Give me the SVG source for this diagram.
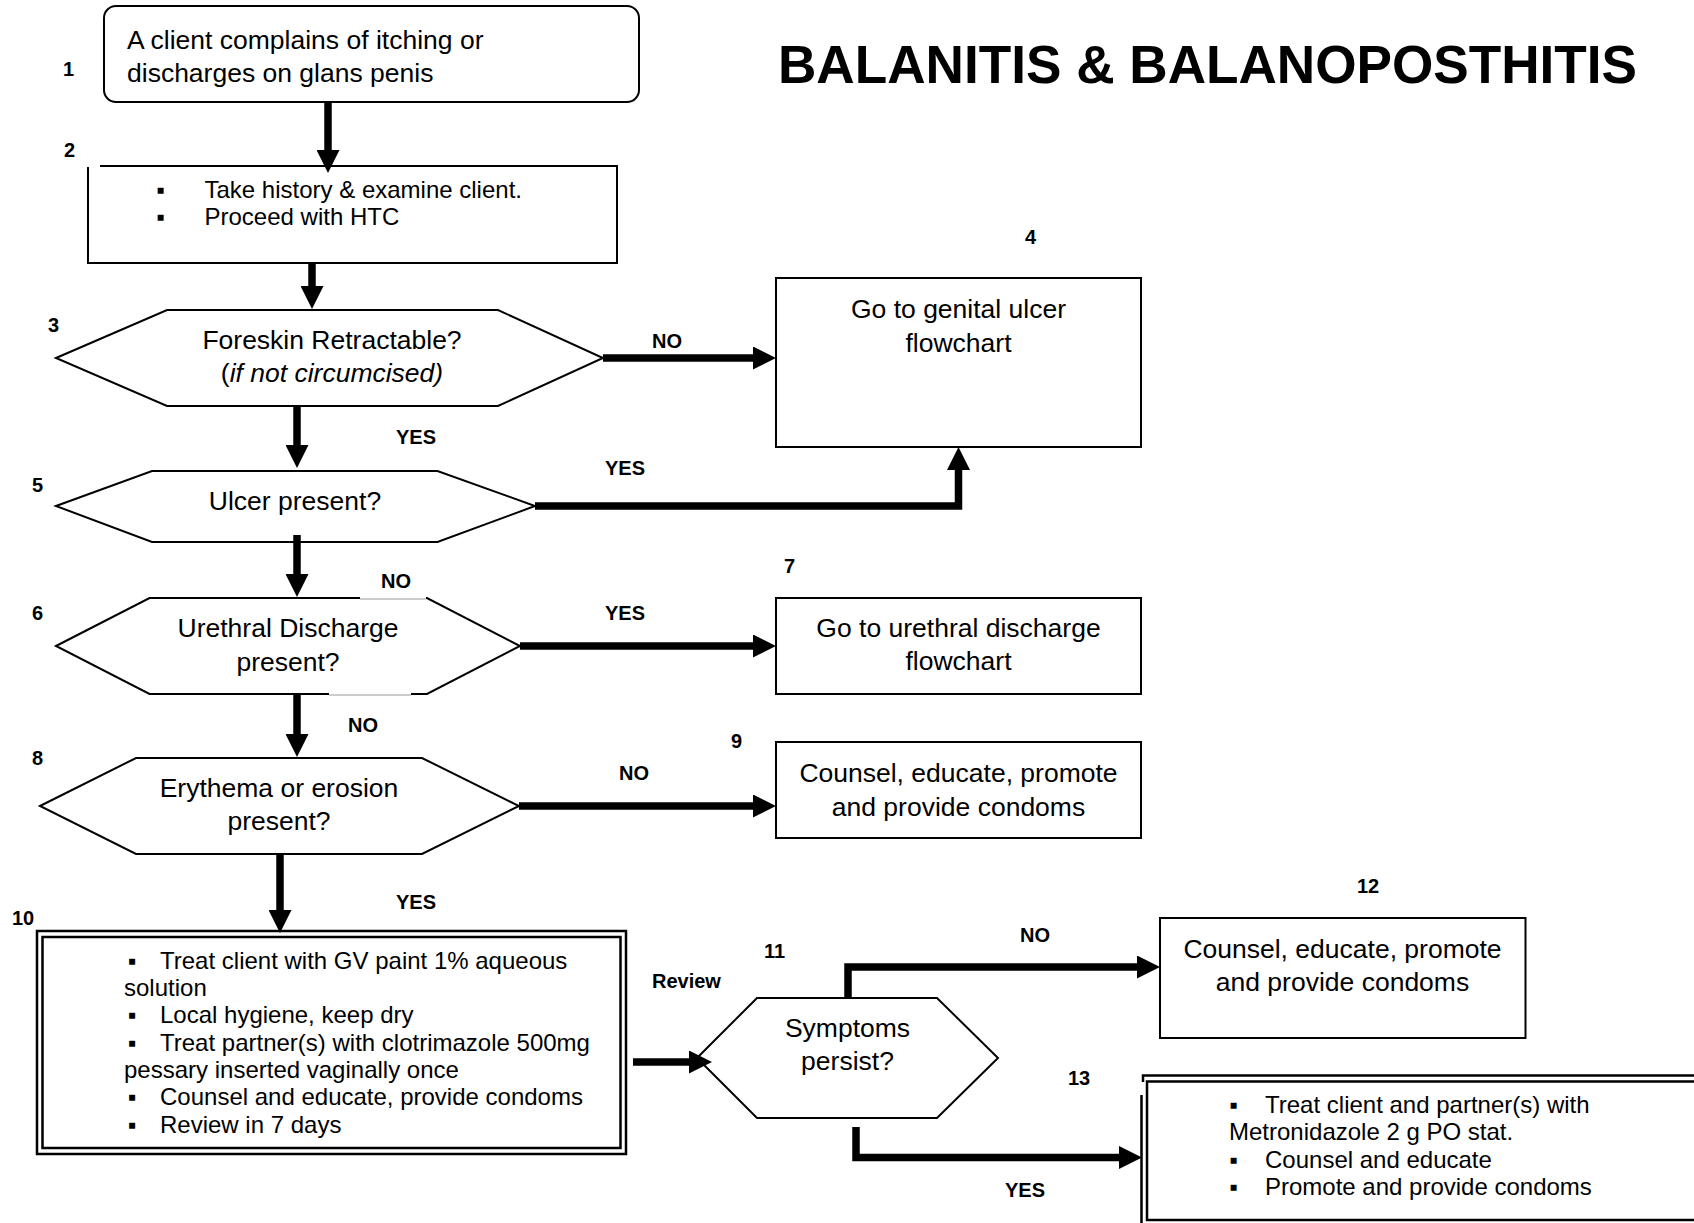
<svg xmlns="http://www.w3.org/2000/svg" width="1694" height="1223" viewBox="0 0 1694 1223">
<style>
  text { font-family: "Liberation Sans", Arial, sans-serif; fill: #000; }
  .t { font-size: 26.5px; }
  .c { text-anchor: middle; }
  .b { font-size: 24px; }
  .lab { font-size: 20px; font-weight: bold; }
  .box { fill: #fff; stroke: #000; stroke-width: 2; }
  .dbl { fill: none; stroke: #000; stroke-width: 2.5; }
  .edge { fill: none; stroke: #000; stroke-width: 7.5; stroke-linejoin: miter; marker-end: url(#ah); }
</style>
<defs>
  <marker id="ah" markerUnits="userSpaceOnUse" markerWidth="23" markerHeight="23" viewBox="0 0 23 23" refX="11" refY="11.5" orient="auto">
    <path d="M0,0 L23,11.5 L0,23 Z" fill="#000"/>
  </marker>
</defs>
<rect width="1694" height="1223" fill="#fff"/>

<text id="title" x="778" y="83" font-size="53" font-weight="bold" textLength="859" lengthAdjust="spacingAndGlyphs">BALANITIS &amp; BALANOPOSTHITIS</text>

<!-- step numbers -->
<g id="numbers" class="lab">
  <text x="63" y="76">1</text>
  <text x="64" y="157">2</text>
  <text x="48" y="332">3</text>
  <text x="1025" y="244">4</text>
  <text x="32" y="492">5</text>
  <text x="32" y="620">6</text>
  <text x="784" y="573">7</text>
  <text x="32" y="765">8</text>
  <text x="731" y="748">9</text>
  <text x="12" y="925">10</text>
  <text x="764" y="958">11</text>
  <text x="1357" y="893">12</text>
  <text x="1068" y="1085">13</text>
</g>

<g id="n1">
  <rect class="box" x="104" y="6" width="535" height="96" rx="12"/>
  <text class="t" x="127" y="49">A client complains of itching or</text>
  <text class="t" x="127" y="82">discharges on glans penis</text>
</g>

<g id="n2">
  <rect x="88" y="166" width="529" height="97" fill="#fff"/>
  <path d="M100,166 H617 V263 H88 V167" fill="none" stroke="#000" stroke-width="2"/>
  <text class="b" y="198"><tspan x="156.5">▪</tspan><tspan x="204.5">Take history &amp; examine client.</tspan></text>
  <text class="b" y="225"><tspan x="156.5">▪</tspan><tspan x="204.5">Proceed with HTC</tspan></text>
</g>

<g id="n3">
  <polygon class="box" points="56,358 167,310 498,310 603,358 498,406 167,406"/>
  <text class="t c" x="332" y="349">Foreskin Retractable?</text>
  <text class="t c" x="332" y="382">(<tspan font-style="italic">if not circumcised)</tspan></text>
</g>

<g id="n4">
  <rect class="box" x="776" y="278" width="365" height="169"/>
  <text class="t c" x="958.5" y="318">Go to genital ulcer</text>
  <text class="t c" x="958.5" y="351.5">flowchart</text>
</g>

<g id="n5">
  <polygon class="box" points="56,506 152,471 437.5,471 535,506 437.5,542 152,542"/>
  <text class="t c" x="295" y="510">Ulcer present?</text>
</g>

<g id="n6">
  <polygon class="box" points="56,646 149.5,598 427,598 520,646 427,694 149.5,694"/>
  <rect x="360" y="594" width="66" height="8" fill="#fff"/>
  <rect x="329" y="690" width="82" height="8" fill="#fff"/>
  <line x1="360" y1="599" x2="426" y2="599" stroke="#9a9a9a" stroke-width="1"/>
  <line x1="329" y1="695" x2="411" y2="695" stroke="#9a9a9a" stroke-width="1"/>
  <text class="t c" x="288" y="637">Urethral Discharge</text>
  <text class="t c" x="288" y="670.5">present?</text>
</g>

<g id="n7">
  <rect class="box" x="776" y="598" width="365" height="96"/>
  <text class="t c" x="958.5" y="636.5">Go to urethral discharge</text>
  <text class="t c" x="958.5" y="670">flowchart</text>
</g>

<g id="n8">
  <polygon class="box" points="40,806 136,758 422,758 519,806 422,854 136,854"/>
  <text class="t c" x="279" y="797">Erythema or erosion</text>
  <text class="t c" x="279" y="830">present?</text>
</g>

<g id="n9">
  <rect class="box" x="776" y="742" width="365" height="96"/>
  <text class="t c" x="958.5" y="782">Counsel, educate, promote</text>
  <text class="t c" x="958.5" y="815.5">and provide condoms</text>
</g>

<g id="n10">
  <rect x="37" y="931" width="589" height="223" fill="#fff"/>
  <rect class="dbl" x="37" y="931" width="589" height="223"/>
  <rect class="dbl" x="42.5" y="937" width="578" height="211"/>
  <text class="b" y="969"><tspan x="128">▪</tspan><tspan x="160">Treat client with GV paint 1% aqueous</tspan></text>
  <text class="b" x="124" y="996">solution</text>
  <text class="b" y="1023"><tspan x="128">▪</tspan><tspan x="160">Local hygiene, keep dry</tspan></text>
  <text class="b" y="1051"><tspan x="128">▪</tspan><tspan x="160">Treat partner(s) with clotrimazole 500mg</tspan></text>
  <text class="b" x="124" y="1078">pessary inserted vaginally once</text>
  <text class="b" y="1105"><tspan x="128">▪</tspan><tspan x="160">Counsel and educate, provide condoms</tspan></text>
  <text class="b" y="1132.5"><tspan x="128">▪</tspan><tspan x="160">Review in 7 days</tspan></text>
</g>

<g id="n11">
  <polygon class="box" points="697,1058 757,998 937,998 998,1058 937,1118 757,1118"/>
  <text class="t c" x="847.5" y="1036.5">Symptoms</text>
  <text class="t c" x="847.5" y="1070">persist?</text>
</g>

<g id="n12">
  <rect class="box" x="1160" y="918" width="365.5" height="120"/>
  <text class="t c" x="1342.5" y="957.5">Counsel, educate, promote</text>
  <text class="t c" x="1342.5" y="991">and provide condoms</text>
</g>

<g id="n13">
  <rect x="1143" y="1076" width="560" height="160" fill="#fff"/>
  <path class="dbl" d="M1143,1082 V1075.5 H1700"/>
  <rect class="dbl" x="1147" y="1081.5" width="560" height="138.5"/>
  <line x1="1141.5" y1="1095" x2="1141.5" y2="1223" stroke="#000" stroke-width="2.5"/>
  <text class="b" y="1113"><tspan x="1229.5">▪</tspan><tspan x="1265">Treat client and partner(s) with</tspan></text>
  <text class="b" x="1229" y="1140">Metronidazole 2 g PO stat.</text>
  <text class="b" y="1167.5"><tspan x="1229.5">▪</tspan><tspan x="1265">Counsel and educate</tspan></text>
  <text class="b" y="1195"><tspan x="1229.5">▪</tspan><tspan x="1265">Promote and provide condoms</tspan></text>
</g>

<g id="connectors">
  <path class="edge" d="M328,102 V161"/>
  <path class="edge" d="M312,263 V297"/>
  <path class="edge" d="M603,358 H764"/>
  <path class="edge" d="M297,406 V456"/>
  <path class="edge" d="M535,506 H958.5 V459"/>
  <path class="edge" d="M297,535 V585"/>
  <path class="edge" d="M520,646 H764"/>
  <path class="edge" d="M297,694 V745"/>
  <path class="edge" d="M519,806 H764"/>
  <path class="edge" d="M280,854 V921"/>
  <path class="edge" d="M633,1062 H700"/>
  <path class="edge" d="M848,998 V967 H1148"/>
  <path class="edge" d="M856,1127 V1157.5 H1130"/>
</g>

<g id="edge-labels" class="lab">
  <text x="652" y="348">NO</text>
  <text x="396" y="444">YES</text>
  <text x="605" y="475">YES</text>
  <text x="381" y="588">NO</text>
  <text x="605" y="620">YES</text>
  <text x="348" y="732">NO</text>
  <text x="619" y="780">NO</text>
  <text x="396" y="909">YES</text>
  <text x="652" y="988">Review</text>
  <text x="1020" y="942">NO</text>
  <text x="1005" y="1197">YES</text>
</g>
</svg>
